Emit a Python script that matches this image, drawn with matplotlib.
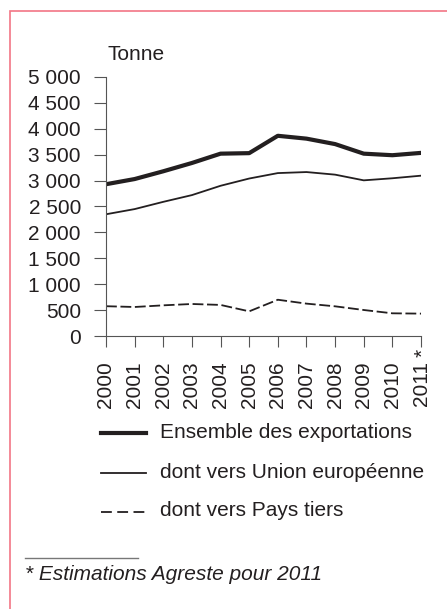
import matplotlib.pyplot as plt
from matplotlib.lines import Line2D
from matplotlib.patches import Rectangle

plt.rcParams['font.family'] = ['Liberation Sans', 'DejaVu Sans']

years = ['2000', '2001', '2002', '2003', '2004', '2005',
         '2006', '2007', '2008', '2009', '2010', '2011*']
total = [2930, 3030, 3180, 3340, 3520, 3530, 3865, 3810, 3705, 3520, 3490, 3535]
ue = [2350, 2450, 2590, 2720, 2900, 3040, 3145, 3165, 3115, 3005, 3045, 3095]
tiers = [575, 560, 592, 618, 600, 476, 700, 625, 573, 502, 438, 432]
yticks = [0, 500, 1000, 1500, 2000, 2500, 3000, 3500, 4000, 4500, 5000]
ylabels = ['0', '500', '1 000', '1 500', '2 000', '2 500', '3 000',
           '3 500', '4 000', '4 500', '5 000']

W, H = 447, 609
FS = 15
fig = plt.figure(figsize=(W / 100, H / 100), dpi=100)
ink = '#231f20'

# pink frame (open on the right and bottom)
fig.patches.append(Rectangle((10 / W, -0.1), 1.2, (H - 11) / H + 0.1,
                             transform=fig.transFigure, fill=False,
                             edgecolor='#f27585', linewidth=1.2))

ax = fig.add_axes([106 / W, (H - 336) / H, (421 - 106) / W, (336 - 77) / H])
x = list(range(len(years)))
ax.plot(x, total, color=ink, lw=3.0, solid_joinstyle='round')
ax.plot(x, ue, color=ink, lw=1.3)
ax.plot(x, tiers, color=ink, lw=1.3, dashes=(6, 2))

ax.set_xlim(0, len(years) - 1)
ax.set_ylim(0, 5000)
ax.set_xticks(x)
# the asterisk is drawn separately so the digits stay aligned
ax.set_xticklabels([y.rstrip('*') for y in years], rotation=90, fontsize=FS,
                   color=ink)
for i, y in enumerate(years):
    if y.endswith('*'):
        ax.annotate('*', xy=(i, 0), xycoords='data', xytext=(1.6, -12.4),
                    textcoords='offset points', rotation=90, fontsize=FS,
                    color=ink, ha='center', va='center',
                    annotation_clip=False)
ax.set_yticks(yticks)
ax.set_yticklabels(ylabels, fontsize=FS, color=ink)
ax.tick_params(axis='y', length=9, width=0.8, color='#555555', pad=9)
ax.tick_params(axis='x', length=8, width=0.8, color='#555555', pad=10)
for s in ['top', 'right']:
    ax.spines[s].set_visible(False)
for s in ['left', 'bottom']:
    ax.spines[s].set_color('#555555')
    ax.spines[s].set_linewidth(0.8)

fig.text(107 / W, 1 - 54 / H, 'Tonne', fontsize=FS, color=ink, va='center')

# legend drawn by hand
rows = [(433, 3.0, None, 'Ensemble des exportations'),
        (473, 1.3, None, 'dont vers Union européenne'),
        (512, 1.3, (6, 3), 'dont vers Pays tiers')]
for yy, lw, dash, label in rows:
    ln = Line2D([101 / W, 146 / W], [1 - yy / H, 1 - yy / H],
                transform=fig.transFigure, color=ink, lw=lw)
    if dash:
        ln.set_dashes(dash)
    fig.lines.append(ln)
    fig.text(160 / W, 1 - (yy - 1) / H, label, fontsize=FS, color=ink,
             va='center')

fig.lines.append(Line2D([25 / W, 138 / W], [1 - 558 / H, 1 - 558 / H],
                        transform=fig.transFigure, color='#777777', lw=1))
fig.text(25 / W, 1 - 575 / H, '* Estimations Agreste pour 2011', fontsize=FS,
         style='italic', color=ink, va='center')

fig.savefig('out.png', dpi=100)
